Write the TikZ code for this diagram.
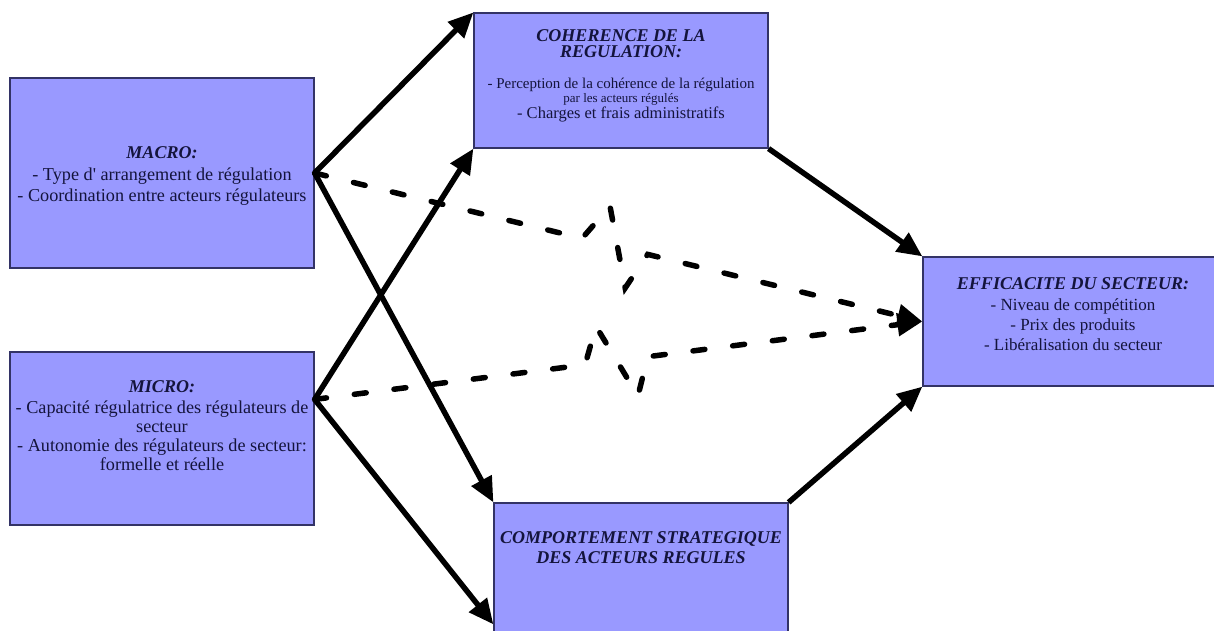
\documentclass[tikz,border=0pt]{standalone}
\usepackage{fontspec}
\setmainfont{Liberation Serif}
\usepackage{tikz}
\usetikzlibrary{calc}
\usetikzlibrary{arrows.meta}
\usetikzlibrary{positioning}

\definecolor{boxfill}{HTML}{9999FF}
\definecolor{boxline}{HTML}{333366}
\definecolor{ink}{HTML}{14143C}

\tikzset{
  box/.style={draw=boxline, line width=1.2pt, fill=boxfill, inner sep=0pt},
  txt/.style={align=center, inner sep=0pt, text=ink, font=\fontsize{18}{19}\selectfont},
  arr/.style={line width=5.5pt, -{Triangle[length=25pt,width=22pt]}},
  dasharr/.style={arr, dash pattern=on 12pt off 28pt, line cap=round},
}
\newcommand{\ttl}[1]{\fontsize{18}{18}\selectfont\bfseries\itshape #1}

\begin{document}
\begin{tikzpicture}[x=1pt, y=-1pt]
  \clip (0,0) rectangle (1214,630);
  \fill[white] (0,0) rectangle (1214,630);

  % boxes
  \node[box, minimum width=304pt, minimum height=190pt] (macro) at (162,173) {};
  \node[box, minimum width=304pt, minimum height=173pt] (micro) at (162,438.5) {};
  \node[box, minimum width=294pt, minimum height=135pt] (coh) at (621,80.5) {};
  \node[box, minimum width=294pt, minimum height=150pt] (comp) at (641,578) {};
  \node[box, minimum width=300pt, minimum height=129pt] (eff) at (1073,321.5) {};

  % texts
  \node[txt, font=\fontsize{18.2}{21.5}\selectfont] (macro-txt) at ([yshift=-3pt]macro.center)
    {\ttl{MACRO:}\\- Type d\textquotesingle{} arrangement de régulation\\- Coordination entre acteurs régulateurs};
  \node[txt, font=\fontsize{18.2}{19}\selectfont, below=29pt of micro.north] (micro-txt)
    {\ttl{MICRO:}\\[2pt]- Capacité régulatrice des régulateurs de\\secteur\\- Autonomie des régulateurs de secteur:\\formelle et réelle};
  \node[txt, font=\fontsize{15}{16}\selectfont, below=17pt of coh.north] (coh-txt)
    {\ttl{COHERENCE DE LA}\\\ttl{REGULATION:}\\[15pt]- Perception de la cohérence de la régulation\\[-2pt]\fontsize{13}{13}\selectfont par les acteurs régulés\\\fontsize{16.5}{16}\selectfont - Charges et frais administratifs};
  \node[txt, font=\fontsize{17}{20}\selectfont, below=29pt of comp.north] (comp-txt)
    {\ttl{COMPORTEMENT STRATEGIQUE}\\\ttl{DES ACTEURS REGULES}};
  \node[txt, font=\fontsize{17}{20}\selectfont, below=21pt of eff.north] (eff-txt)
    {\ttl{EFFICACITE DU SECTEUR:}\\[1pt]- Niveau de compétition\\- Prix des produits\\- Libéralisation du secteur};

  \coordinate (micro-out) at ([yshift=-48pt]micro.north east);
  \coordinate (comp-low) at ([yshift=-122pt]comp.north west);

  % solid arrows
  \draw[arr] (macro.east) -- (coh.north west);
  \draw[arr] (macro.east) -- (comp.north west);
  \draw[arr] (micro-out) -- (coh.south west);
  \draw[arr] (micro-out) -- (comp-low);
  \draw[arr] (coh.south east) -- (eff.north west);
  \draw[arr] (comp.north east) -- (eff.south west);

  % dashed arrows with a break
  \draw[dasharr] (macro.east) -- ($(macro.east)!0.44!(eff.west)$)
    -- ($(macro.east)!0.486!(eff.west)+(0,-39)$)
    -- ($(macro.east)!0.511!(eff.west)+(0,39)$)
    -- ($(macro.east)!0.548!(eff.west)$) -- (eff.west);
  \draw[dasharr] (micro-out) -- ($(micro-out)!0.445!(eff.west)$)
    -- ($(micro-out)!0.463!(eff.west)+(0,-37)$)
    -- ($(micro-out)!0.532!(eff.west)+(0,38)$)
    -- ($(micro-out)!0.548!(eff.west)$) -- (eff.west);
\end{tikzpicture}
\end{document}
